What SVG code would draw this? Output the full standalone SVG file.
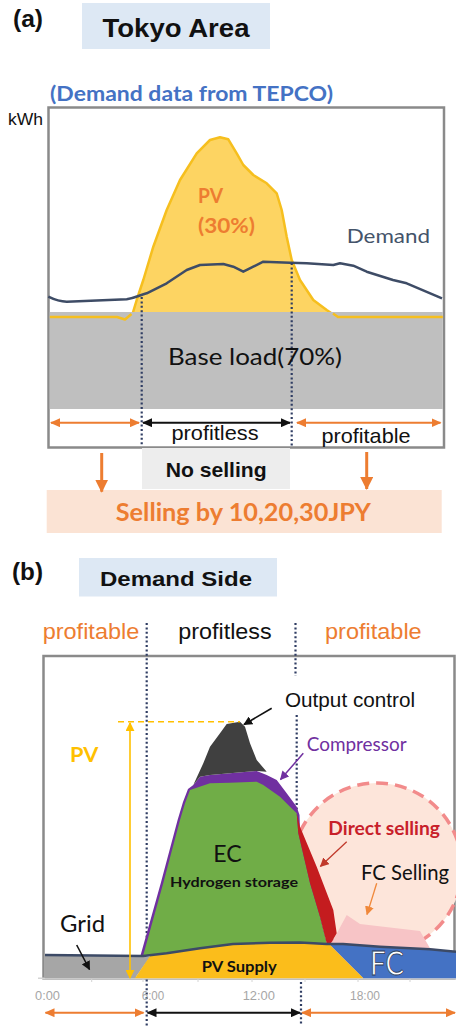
<svg xmlns="http://www.w3.org/2000/svg" width="456" height="1026" viewBox="0 0 456 1026">
<style>
.ar{font-family:"Liberation Sans",Arial,sans-serif}
.la{font-family:Lato,"Open Sans",sans-serif}
.b{font-weight:bold}
.dot{stroke:#2f3d63;stroke-width:2.2;stroke-dasharray:2 2.4;fill:none}
.frame{fill:#fff;stroke:#8a8a8a;stroke-width:2.5}
.or{fill:#ed7d31}
.ax{font-family:"Liberation Sans",Arial,sans-serif;font-size:13px;fill:#a6a6a6}
</style>
<defs>
<marker id="mOr" markerUnits="userSpaceOnUse" markerWidth="10" markerHeight="9" viewBox="0 0 10 9" refX="9" refY="4.5" orient="auto-start-reverse"><path d="M0,0 L10,4.5 L0,9 z" fill="#ed7d31"/></marker>
<marker id="mBk" markerUnits="userSpaceOnUse" markerWidth="10" markerHeight="9" viewBox="0 0 10 9" refX="9" refY="4.5" orient="auto-start-reverse"><path d="M0,0 L10,4.5 L0,9 z" fill="#111"/></marker>
<marker id="mOrBig" markerUnits="userSpaceOnUse" markerWidth="13" markerHeight="13" viewBox="0 0 13 13" refX="12" refY="6.5" orient="auto"><path d="M0,0 L13,6.5 L0,13 z" fill="#ed7d31"/></marker>
<marker id="mYe" markerUnits="userSpaceOnUse" markerWidth="9" markerHeight="9" viewBox="0 0 10 10" refX="9" refY="5" orient="auto-start-reverse"><path d="M0,0 L10,5 L0,10 z" fill="#ffc000"/></marker>
<marker id="mPu" markerUnits="userSpaceOnUse" markerWidth="9" markerHeight="9" viewBox="0 0 10 10" refX="9" refY="5" orient="auto"><path d="M0,0 L10,5 L0,10 z" fill="#7030a0"/></marker>
<marker id="mRd" markerUnits="userSpaceOnUse" markerWidth="9" markerHeight="9" viewBox="0 0 10 10" refX="9" refY="5" orient="auto"><path d="M0,0 L10,5 L0,10 z" fill="#c0392b"/></marker>
<marker id="mFo" markerUnits="userSpaceOnUse" markerWidth="9" markerHeight="9" viewBox="0 0 10 10" refX="9" refY="5" orient="auto"><path d="M0,0 L10,5 L0,10 z" fill="#f0883a"/></marker>
<marker id="mBk2" markerUnits="userSpaceOnUse" markerWidth="9" markerHeight="9" viewBox="0 0 10 10" refX="9" refY="5" orient="auto"><path d="M0,0 L10,5 L0,10 z" fill="#111"/></marker>
</defs>
<rect width="456" height="1026" fill="#fff"/>

<!-- Panel (a) -->
<g id="a-title">
<text class="ar b" x="13" y="27" font-size="24" fill="#111" textLength="30" lengthAdjust="spacingAndGlyphs">(a)</text>
<rect x="82" y="3" width="188" height="46" fill="#dde8f4"/>
<text class="ar b" x="176" y="37.3" font-size="26" fill="#111" text-anchor="middle" textLength="147" lengthAdjust="spacingAndGlyphs">Tokyo Area</text>
<text class="la b" x="50" y="101" font-size="20" fill="#4472c4" textLength="283" lengthAdjust="spacingAndGlyphs">(Demand data from TEPCO)</text>
<text class="ar" x="8" y="125" font-size="16" fill="#111" textLength="35" lengthAdjust="spacingAndGlyphs">kWh</text>
</g>

<g id="a-chart">
<rect class="frame" x="48.5" y="107.5" width="395.5" height="340"/>
<path d="M131.7,316.7 L136.7,300 L143.3,280 L153.3,246.7 L166.7,210 L180,180 L196.7,153.3 L210,140 L220,137.3 L228.3,139.3 L236.7,153.3 L243.3,165 L253.3,175 L266.7,183.3 L276.7,193.3 L281.7,210 L286.7,236.7 L291.7,260 L300,280 L313.3,300 L326.7,310 L336.7,316.7 Z" fill="#fdd462" stroke="#f6bf1e" stroke-width="2.5" stroke-linejoin="round"/>
<rect x="49.8" y="312" width="393" height="97" fill="#bfbfbf"/>
<path d="M49.8,317 L117,317 L125,319.5 L131.5,314 M333,313.5 L338,317 L442.8,317" fill="none" stroke="#f6bf1e" stroke-width="2.5" stroke-linejoin="round"/>
<path d="M48.3,296.7 C55,300 60,301.7 66.7,301.7 L126.7,299.3 C135,298 140,295 146.7,293.3 L166.7,283.3 L186.7,270 L200,265 L223.3,264 L233.3,266.7 L243.3,271.7 L253.3,266.7 L263.3,261.7 L290,262.7 L306.7,263.3 L333.3,265 L340,263.3 L353.3,265.7 L366.7,271.7 L393,280 L406.7,283.3 L442,298.3" fill="none" stroke="#3e4c66" stroke-width="2.5" stroke-linejoin="round"/>
<line class="dot" x1="141.7" y1="297" x2="141.7" y2="446"/>
<line class="dot" x1="291.7" y1="263" x2="291.7" y2="446"/>
<text class="la b or" x="198" y="203.3" font-size="20" textLength="25" lengthAdjust="spacingAndGlyphs">PV</text>
<text class="la b or" x="198" y="232.7" font-size="20" textLength="57" lengthAdjust="spacingAndGlyphs">(30%)</text>
<text class="la" x="346.7" y="242.7" font-size="20" fill="#44546a" textLength="83.3" lengthAdjust="spacingAndGlyphs">Demand</text>
<text class="la" x="255" y="365" font-size="23" fill="#111" text-anchor="middle" textLength="174" lengthAdjust="spacingAndGlyphs">Base load(70%)</text>
</g>

<g id="connectors">
<line x1="51" y1="422.7" x2="139" y2="422.7" stroke="#ed7d31" stroke-width="2" marker-start="url(#mOr)" marker-end="url(#mOr)"/>
<line x1="143" y1="422.7" x2="290" y2="422.7" stroke="#111" stroke-width="2" marker-start="url(#mBk)" marker-end="url(#mBk)"/>
<line x1="297" y1="422.7" x2="440.5" y2="422.7" stroke="#ed7d31" stroke-width="2" marker-start="url(#mOr)" marker-end="url(#mOr)"/>
<line x1="45.5" y1="1012.7" x2="143.5" y2="1012.7" stroke="#ed7d31" stroke-width="2" marker-start="url(#mOr)" marker-end="url(#mOr)"/>
<line x1="147.5" y1="1012.7" x2="300" y2="1012.7" stroke="#111" stroke-width="2" marker-start="url(#mBk)" marker-end="url(#mBk)"/>
<line x1="302" y1="1012.7" x2="455" y2="1012.7" stroke="#ed7d31" stroke-width="2" marker-start="url(#mOr)" marker-end="url(#mOr)"/>
</g>

<g id="a-labels">
<text class="ar" x="215" y="439.5" font-size="21" fill="#111" text-anchor="middle" textLength="87" lengthAdjust="spacingAndGlyphs">profitless</text>
<text class="ar" x="366" y="442.7" font-size="21" fill="#111" text-anchor="middle" textLength="89" lengthAdjust="spacingAndGlyphs">profitable</text>
</g>

<g id="no-selling">
<rect x="142" y="448" width="148" height="41" fill="#ededed"/>
<text class="ar b" x="216.2" y="476.5" font-size="21" fill="#111" text-anchor="middle" textLength="101" lengthAdjust="spacingAndGlyphs">No selling</text>
</g>

<g id="selling">
<rect x="46.7" y="490" width="395" height="43" fill="#fbe3d4"/>
<text class="la b or" x="243.3" y="520.5" font-size="24" text-anchor="middle" textLength="255" lengthAdjust="spacingAndGlyphs">Selling by 10,20,30JPY</text>
</g>

<g id="down-arrows">
<line x1="101.7" y1="453" x2="101.7" y2="491.7" stroke="#ed7d31" stroke-width="3" marker-end="url(#mOrBig)"/>
<line x1="366.7" y1="452" x2="366.7" y2="489" stroke="#ed7d31" stroke-width="3" marker-end="url(#mOrBig)"/>
</g>

<!-- Panel (b) -->
<g id="b-title">
<text class="ar b" x="12" y="580" font-size="24" fill="#111" textLength="31" lengthAdjust="spacingAndGlyphs">(b)</text>
<rect x="79" y="558" width="198" height="38.5" fill="#dde8f4"/>
<text class="ar b" x="176" y="586" font-size="20" fill="#111" text-anchor="middle" textLength="152" lengthAdjust="spacingAndGlyphs">Demand Side</text>
<text class="ar or" x="42.7" y="639.3" font-size="22" textLength="96.6" lengthAdjust="spacingAndGlyphs">profitable</text>
<text class="ar" x="178.3" y="639.3" font-size="22" fill="#111" textLength="93.4" lengthAdjust="spacingAndGlyphs">profitless</text>
<text class="ar or" x="325" y="639.3" font-size="22" textLength="96.7" lengthAdjust="spacingAndGlyphs">profitable</text>
</g>

<g id="b-chart">
<rect class="frame" x="43.5" y="656" width="411" height="322.3"/>
<line x1="38" y1="978.3" x2="456" y2="978.3" stroke="#d4d4d4" stroke-width="1.5"/>
<path d="M91.7,978 V982 M143,978 V982 M198,978 V982 M252,978 V982 M305,978 V982 M358,978 V982 M410,978 V982" stroke="#d4d4d4" stroke-width="1"/>
<line class="dot" x1="146.7" y1="623" x2="146.7" y2="1026"/>
<line class="dot" x1="295.5" y1="623" x2="295.5" y2="676"/>
<line class="dot" x1="296.7" y1="715" x2="296.7" y2="830"/>
<line class="dot" x1="301" y1="982" x2="301" y2="1026"/>
<circle cx="377" cy="868" r="85" fill="#fde5da" stroke="#f28b8b" stroke-width="3.5" stroke-dasharray="12 7"/>
</g>

<g id="grid-area"><path d="M45,955 L143,956 L150,957 L135,978.3 L45,978.3 Z" fill="#a6a6a6"/></g>
<g id="fc-selling-area"><path d="M330,945 L333.3,940 L346.7,915 L360,924 L420,931 L430,948.3 L456,951.7 L456,978 L330,978 Z" fill="#f7c4c6"/></g>
<g id="fc-area">
<path d="M330,945 L343,944 L380,946.7 L430,949.3 L456,951.7 L456,978.3 L363.3,978.3 Z" fill="#4472c4"/>
<text class="la" x="370" y="975" font-size="32" fill="#fff" stroke="#2b3a55" stroke-width="0.8" textLength="34" lengthAdjust="spacingAndGlyphs">FC</text>
</g>
<g id="pv-supply">
<path d="M135,978.3 L150,956 L166.7,953.3 L200,948.3 L233,944 L270,942.7 L300,942.5 L326.7,944 L330,945 L363.3,978.3 Z" fill="#fbbd1b"/>
<text class="la b" x="201.7" y="971.7" font-size="16" fill="#111" textLength="75" lengthAdjust="spacingAndGlyphs">PV Supply</text>
</g>
<g id="compressor-band"><path d="M140.5,955.5 L160.8,883 L177.6,820 L183,802 L188,789 L193.3,785 L200,776.7 L210,775 L230,773.3 L256.7,771 L266.7,775 L276.7,780 L286.7,793.3 L296.7,806.7 L299.5,815 L300,830 L326.7,943.3 L300,942.5 L270,942.7 L233,944 L200,948.3 L166.7,953.3 L143,956 Z" fill="#7030a0"/></g>
<g id="ec-area">
<path d="M143.3,955 L163.3,883 L180,820 L185,803.3 L190,790 L210,783.3 L230,782.7 L256.7,781.7 L263.3,785 L280,796.7 L290,806.7 L296.7,813.3 L298.3,833 L310,883 L320,916.7 L326.7,943.3 L300,942.5 L270,942.7 L233,944 L200,948.3 L166.7,953.3 L143.3,956 Z" fill="#70ad47"/>
<text class="la" x="213.3" y="861.7" font-size="23" fill="#111" textLength="28.4" lengthAdjust="spacingAndGlyphs">EC</text>
<text class="la b" x="170" y="887.3" font-size="14" fill="#111" textLength="128" lengthAdjust="spacingAndGlyphs">Hydrogen storage</text>
</g>
<g id="output-control-area"><path d="M193.3,785 L203.3,763.3 L210,746.7 L220,733.3 L226.7,724 L240,721.7 L245,726.7 L250,743.3 L256.7,760 L266.7,771.7 L256.7,771 L230,773.3 L210,775 L200,776.7 Z" fill="#404040"/></g>
<g id="direct-selling-area"><path d="M296.7,813.3 L300,826.7 L316.7,866.7 L333.3,910 L336.7,933.3 L330,945 L326.7,943.3 L320,916.7 L310,883 L298.3,833 Z" fill="#c41c1f"/></g>
<g id="supply-line"><path d="M45,955 L143,956 L166.7,953.3 L200,948.3 L233,944 L270,942.7 L300,942.5 L326.7,944 L343,944 L380,946.7 L430,949.3 L456,951.7" fill="none" stroke="#3c4a66" stroke-width="2.5" stroke-linejoin="round"/></g>

<g id="pv-range">
<line x1="118" y1="721.7" x2="240" y2="721.7" stroke="#ffc000" stroke-width="1.6" stroke-dasharray="6 4"/>
<line x1="130" y1="723" x2="130" y2="978" stroke="#ffc000" stroke-width="1.6" marker-start="url(#mYe)" marker-end="url(#mYe)"/>
<text class="la b" x="70" y="761.7" font-size="21" fill="#ffc000" textLength="28.3" lengthAdjust="spacingAndGlyphs">PV</text>
</g>

<g id="b-labels">
<text class="ar" x="285" y="706.7" font-size="21" fill="#111" textLength="130" lengthAdjust="spacingAndGlyphs">Output control</text>
<line x1="271.7" y1="708.3" x2="244" y2="724.5" stroke="#111" stroke-width="1.6" marker-end="url(#mBk2)"/>
<text class="la" x="306.7" y="750.7" font-size="19" fill="#7030a0" textLength="100" lengthAdjust="spacingAndGlyphs">Compressor</text>
<line x1="303.3" y1="753.3" x2="280.5" y2="779.5" stroke="#7030a0" stroke-width="1.5" marker-end="url(#mPu)"/>
<text class="la b" x="328.3" y="835" font-size="18.5" fill="#c8202a" textLength="111.7" lengthAdjust="spacingAndGlyphs">Direct selling</text>
<line x1="346.7" y1="841.7" x2="320.5" y2="866.3" stroke="#c0392b" stroke-width="1.3" marker-end="url(#mRd)"/>
<text class="la" x="361" y="880" font-size="22" fill="#111" textLength="88" lengthAdjust="spacingAndGlyphs">FC Selling</text>
<line x1="376.7" y1="883.3" x2="367" y2="914.5" stroke="#f0883a" stroke-width="1.3" marker-end="url(#mFo)"/>
<text class="la" x="60" y="931.7" font-size="23" fill="#111" textLength="45" lengthAdjust="spacingAndGlyphs">Grid</text>
<line x1="76.7" y1="945" x2="89.5" y2="969.5" stroke="#111" stroke-width="1.6" marker-end="url(#mBk2)"/>
</g>

<g id="axis-labels">
<text class="ax" x="35" y="1000" textLength="25" lengthAdjust="spacingAndGlyphs">0:00</text>
<text class="ax" x="141.7" y="1000" textLength="22.6" lengthAdjust="spacingAndGlyphs">6:00</text>
<text class="ax" x="242.7" y="1000" textLength="32.3" lengthAdjust="spacingAndGlyphs">12:00</text>
<text class="ax" x="350" y="1000" textLength="30" lengthAdjust="spacingAndGlyphs">18:00</text>
</g>
</svg>
